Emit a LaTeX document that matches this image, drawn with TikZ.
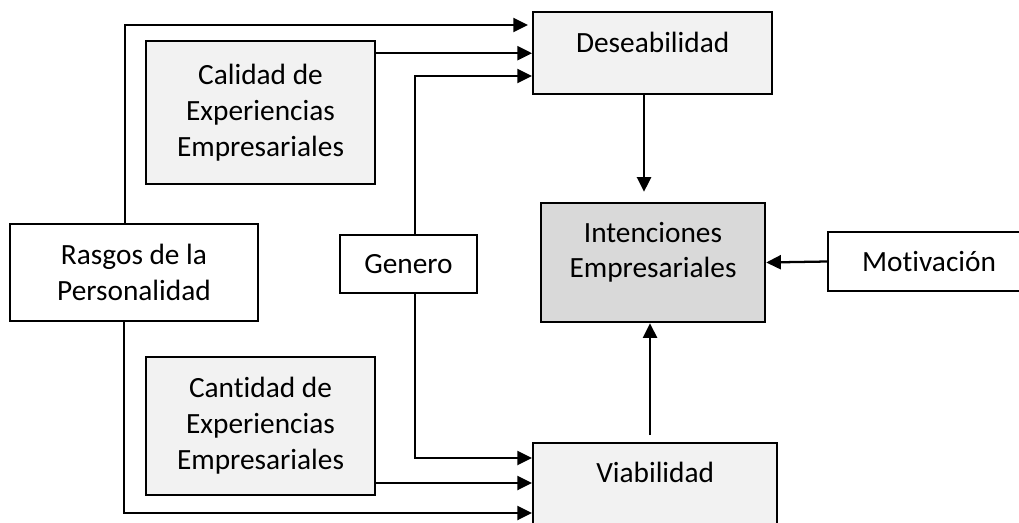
\documentclass[tikz,border=0pt]{standalone}
\usepackage{fontspec}
\setmainfont{Carlito}[Ligatures=NoCommon]
\usetikzlibrary{arrows.meta}
\definecolor{g1}{HTML}{F2F2F2}
\definecolor{g2}{HTML}{D9D9D9}
\begin{document}
\begin{tikzpicture}[x=0.75pt,y=-0.75pt,
  box/.style={draw=black, line width=1.8pt, align=center, font=\fontsize{22}{27}\selectfont, inner sep=0pt},
  txt/.style={align=center, font=\fontsize{22}{26.25}\selectfont, inner sep=0pt},
  arr/.style={line width=1.7pt, -{Triangle[length=11pt,width=10.5pt]}}]
\useasboundingbox (0,0) rectangle (1019,522);
% boxes
\node[box, fill=g1, minimum width=179.25pt, text height=30pt, text depth=31.5pt, anchor=north west] (des) at (532,11) {Deseabilidad};
\node[box, fill=g1, minimum width=183pt, text height=29.25pt, text depth=45pt, anchor=north west] (via) at (532,442) {Viabilidad};
\node[box, fill=g1, minimum width=171.75pt, minimum height=107.25pt] (cal) at (260.5,112.5) {Calidad de\\Experiencias\\Empresariales};
\node[box, fill=g1, minimum width=171.75pt, minimum height=103.5pt] (can) at (260.5,426) {Cantidad de\\Experiencias\\Empresariales};
\node[box, fill=white, minimum width=186pt, minimum height=72.75pt] (ras) at (134,272.5) {Rasgos de la\\Personalidad};
\node[box, fill=white, minimum width=102.75pt, minimum height=43.5pt] (gen) at (408.5,264) {Genero};
\node[box, fill=g2, minimum width=168pt, minimum height=89.25pt] (int) at (653,262.5) {};
\node[txt] (intt) at (653,252) {Intenciones\\Empresariales};
\node[box, fill=white, minimum width=151.5pt, minimum height=44.25pt] (mot) at (929,261.5) {Motivación};
% helper coordinates
\coordinate (rl) at (125,25);
\coordinate (gl) at (415,76);
\coordinate (dl) at (644,0);
\coordinate (vl) at (650,0);
\coordinate (gb) at (415,458);
\coordinate (cb) at (0,483);
\coordinate (rb) at (124,513);
% connectors
\draw[arr, shorten >=3pt] (ras.north -| rl) |- (des.west |- rl);
\draw[arr] (cal.east |- des.west) -- (des.west);
\draw[arr] (gen.north -| gl) |- (des.west |- gl);
\draw[arr, shorten >=7.5pt] (des.south -| dl) -- (int.north -| dl);
\draw[arr, shorten <=5.25pt] (via.north -| vl) -- (int.south -| vl);
\draw[arr] (mot.west) -- (int.east);
\draw[arr] (gen.south -| gl) |- (via.west |- gb);
\draw[arr] (can.east |- cb) -- (via.west |- cb);
\draw[arr] (ras.south -| rb) |- (via.west |- rb);
\end{tikzpicture}
\end{document}
